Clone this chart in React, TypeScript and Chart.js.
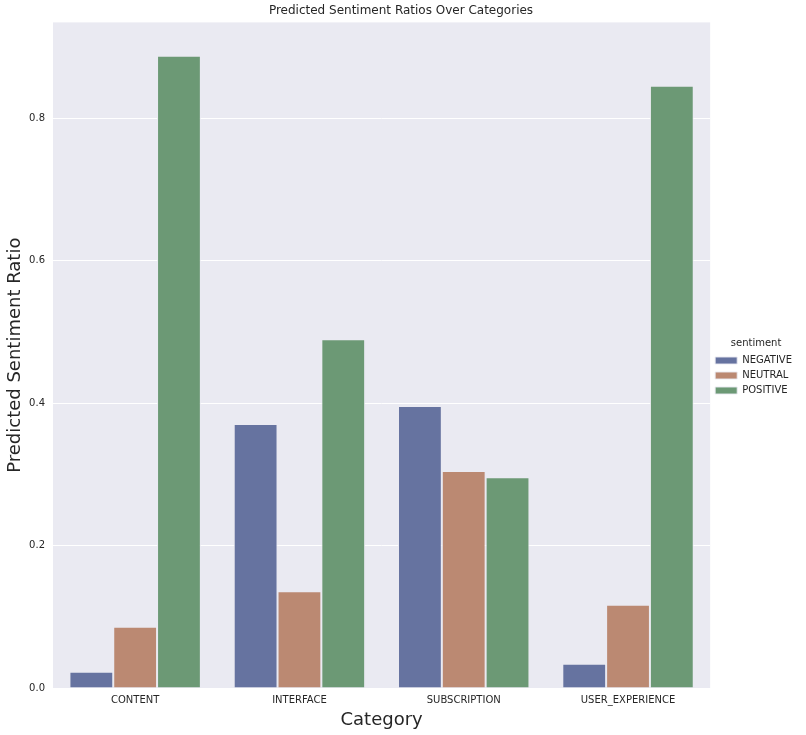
import React, { useEffect, useRef } from "react";
import { Chart, registerables } from "chart.js";

Chart.register(...registerables);

const CATEGORIES = ["CONTENT", "INTERFACE", "SUBSCRIPTION", "USER_EXPERIENCE"];
const NEGATIVE = [0.023, 0.371, 0.396, 0.034];
const NEUTRAL = [0.086, 0.136, 0.305, 0.117];
const POSITIVE = [0.888, 0.49, 0.296, 0.846];
const SERIES_NAMES = ["NEGATIVE", "NEUTRAL", "POSITIVE"];
const Y_TICKS = [0, 0.2, 0.4, 0.6, 0.8];
const Y_MAX = 0.935;

const COLORS = ["#6673a0", "#bb8972", "#6c9975"];
const FONT = "'DejaVu Sans', sans-serif";
const TEXT = "#262626";

const bgPlugin = {
  id: "plotBg",
  beforeDraw(chart: any) {
    const { ctx, chartArea } = chart;
    if (!chartArea) return;
    ctx.save();
    ctx.fillStyle = "#eaeaf2";
    ctx.fillRect(chartArea.left, chartArea.top, chartArea.right - chartArea.left, chartArea.bottom - chartArea.top);
    ctx.restore();
  },
};

export default function App() {
  const ref = useRef<HTMLCanvasElement | null>(null);

  useEffect(() => {
    if (!ref.current) return;
    const values = [NEGATIVE, NEUTRAL, POSITIVE];
    const chart = new Chart(ref.current, {
      type: "bar",
      data: {
        labels: CATEGORIES,
        datasets: SERIES_NAMES.map((name, i) => ({
          label: name,
          data: values[i],
          backgroundColor: COLORS[i],
          borderColor: "rgba(234,234,242,0.9)",
          borderWidth: 1,
          categoryPercentage: 0.8,
          barPercentage: 1.0,
        })),
      },
      options: {
        responsive: false,
        animation: false,
        layout: { padding: { left: 0, right: 4, top: 0, bottom: 0 } },
        plugins: {
          tooltip: { enabled: false },
          title: {
            display: true,
            text: "Predicted Sentiment Ratios Over Categories",
            color: TEXT,
            font: { family: FONT, size: 12, weight: "normal" },
            padding: { top: 4, bottom: 4 },
          },
          legend: {
            position: "right",
            title: {
              display: true,
              text: "sentiment",
              color: TEXT,
              font: { family: FONT, size: 10 },
              padding: { top: 4, bottom: 0 },
            },
            labels: {
              color: TEXT,
              font: { family: FONT, size: 10 },
              boxWidth: 22,
              boxHeight: 7,
              padding: 5,
            },
          },
        },
        scales: {
          x: {
            grid: { display: false, drawTicks: false },
            border: { display: false },
            ticks: { color: TEXT, font: { family: FONT, size: 10 }, padding: 6 },
            title: {
              display: true,
              text: "Category",
              color: TEXT,
              font: { family: FONT, size: 18 },
              padding: { top: 0, bottom: 4 },
            },
            afterFit: (s: any) => {
              s.height = 47;
            },
          },
          y: {
            min: 0,
            max: Y_MAX,
            grid: { color: "#ffffff", lineWidth: 1, drawTicks: false },
            border: { display: false },
            ticks: {
              color: TEXT,
              font: { family: FONT, size: 10 },
              padding: 8,
              callback: (v: any) => Number(v).toFixed(1),
            },
            afterBuildTicks: (s: any) => {
              s.ticks = Y_TICKS.map((v) => ({ value: v }));
            },
            title: {
              display: true,
              text: "Predicted Sentiment Ratio",
              color: TEXT,
              font: { family: FONT, size: 18 },
              padding: { top: 5, bottom: 5 },
            },
            afterFit: (s: any) => {
              s.width = 53;
            },
          },
        },
      },
      plugins: [bgPlugin],
    });
    return () => chart.destroy();
  }, []);

  return (
    <div style={{ position: "absolute", left: 0, top: 0, width: 806, height: 735, background: "#fff" }}>
      <canvas ref={ref} width={806} height={735} />
    </div>
  );
}
